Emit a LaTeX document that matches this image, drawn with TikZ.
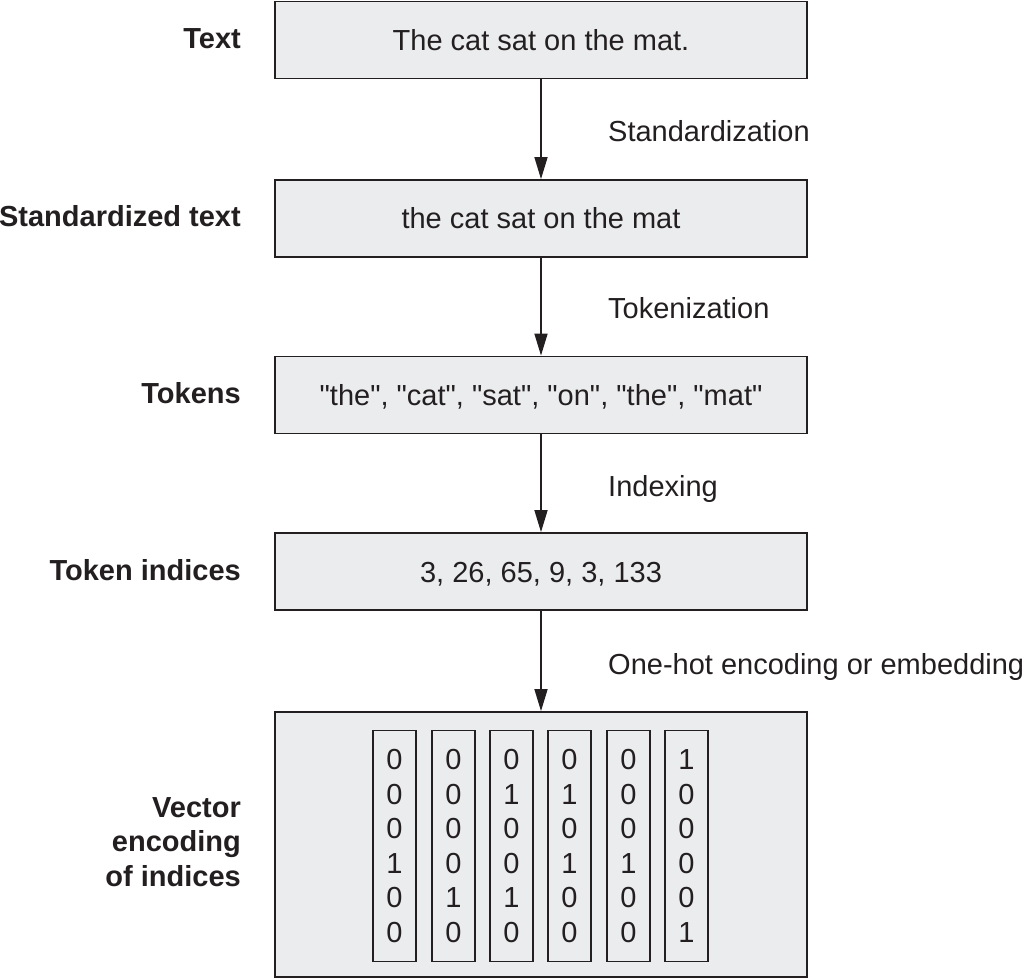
\documentclass[tikz,border=0pt]{standalone}
\usepackage{fontspec}
\setmainfont{Liberation Sans}[Ligatures=TeXOff]
\usetikzlibrary{arrows.meta}
\definecolor{ink}{HTML}{231F20}
\definecolor{boxfill}{HTML}{EBECEE}
\tikzset{
  stagebox/.style={draw=ink, fill=boxfill, line width=1.8pt, minimum width=532pt, minimum height=77pt, inner sep=0pt,
    text=ink, font=\fontsize{29}{34.6}\selectfont, text height=21pt, text depth=0pt},
  vecbox/.style={draw=ink, fill=boxfill, line width=1.8pt, minimum width=43pt, minimum height=231pt, inner sep=0pt,
    text=ink, font=\fontsize{29}{34.6}\selectfont, align=center},
  leftlab/.style={anchor=east, text=ink, font=\bfseries\fontsize{29}{34.6}\selectfont, inner sep=0pt, text height=21pt, text depth=0pt},
  steplab/.style={anchor=west, text=ink, font=\fontsize{29}{34.6}\selectfont, inner sep=0pt, text height=21pt, text depth=0pt},
  flow/.style={draw=ink, line width=1.5pt, -{Triangle[length=22pt,width=13pt]}}
}
\begin{document}
\begin{tikzpicture}[x=1pt,y=-1pt]
\useasboundingbox (0,0) rectangle (1026,979);
% stage boxes
\node[stagebox] (b1) at (541,40) {The cat sat on the mat.};
\node[stagebox] (b2) at (541,218.5) {the cat sat on the mat};
\node[stagebox] (b3) at (541,395) {"the", "cat", "sat", "on", "the", "mat"};
\node[stagebox] (b4) at (541,571.5) {3, 26, 65, 9, 3, 133};
\node[draw=ink, fill=boxfill, line width=1.8pt, minimum width=532pt, minimum height=265pt, inner sep=0pt] (b5) at (541,844.5) {};
% vectors
\node[vecbox] (v1) at (394.5,846) {0\\0\\0\\1\\0\\0};
\node[vecbox] (v2) at (453.5,846) {0\\0\\0\\0\\1\\0};
\node[vecbox] (v3) at (511.5,846) {0\\1\\0\\0\\1\\0};
\node[vecbox] (v4) at (569.5,846) {0\\1\\0\\1\\0\\0};
\node[vecbox] (v5) at (628.5,846) {0\\0\\0\\1\\0\\0};
\node[vecbox] (v6) at (686.5,846) {1\\0\\0\\0\\0\\1};
% left labels
\node[leftlab] (l1) at (241,38) {Text};
\node[leftlab] (l2) at (241,216) {Standardized text};
\node[leftlab] (l3) at (241,393) {Tokens};
\node[leftlab] (l4) at (241,570) {Token indices};
\node[anchor=east, text=ink, font=\bfseries\fontsize{29}{34.6}\selectfont, inner sep=0pt, align=right] (l5) at (241,842) {Vector\\encoding\\of indices};
% arrows
\draw[flow] (b1.south) -- (b2.north);
\draw[flow] (b2.south) -- (b3.north);
\draw[flow] (b3.south) -- (b4.north);
\draw[flow] (b4.south) -- (b5.north);
% step labels
\node[steplab] (s1) at (608,131) {Standardization};
\node[steplab] (s2) at (608,308) {Tokenization};
\node[steplab] (s3) at (608,486) {Indexing};
\node[steplab] (s4) at (608,664) {One-hot encoding or embedding};
\end{tikzpicture}
\end{document}
